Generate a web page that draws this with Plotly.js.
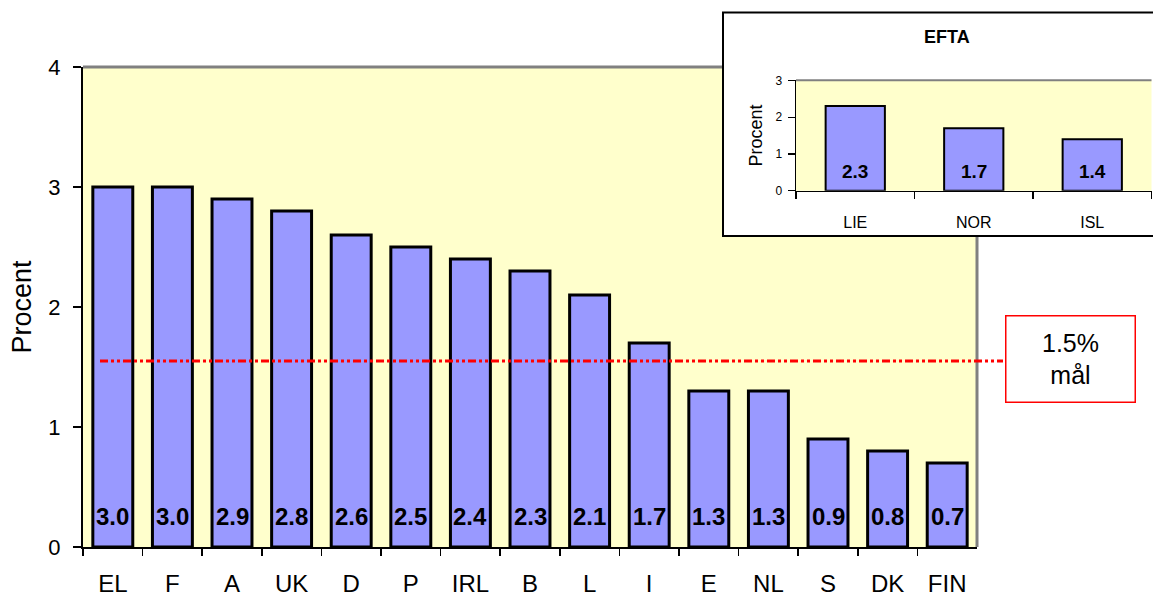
<!DOCTYPE html>
<html>
<head>
<meta charset="utf-8">
<script src="https://cdn.plot.ly/plotly-3.0.1.min.js"></script>
<style>html,body{margin:0;padding:0;background:#fff;}#chart{width:1153px;height:598px;}</style>
</head>
<body>
<div id="chart"></div>
<script>
// Main chart data (EU countries)
var countries = ["EL", "F", "A", "UK", "D", "P", "IRL", "B", "L", "I", "E", "NL", "S", "DK", "FIN"];
var values = [3.0, 3.0, 2.9, 2.8, 2.6, 2.5, 2.4, 2.3, 2.1, 1.7, 1.3, 1.3, 0.9, 0.8, 0.7];
// Inset chart data (EFTA)
var eftaCountries = ["LIE", "NOR", "ISL"];
var eftaValues = [2.3, 1.7, 1.4];
// Goal line
var goalValue = 1.55;
var goalLabel = "1.5%<br>mål";
var yTitle = "Procent";
var insetTitle = "EFTA";

var FONT = '"Liberation Sans", Arial, sans-serif';
var BAR = '#9999FF';
var BG = '#FFFFCC';

var W = 1153, H = 598;
function px(x){ return x / W; }
function py(y){ return 1 - y / H; }

var traces = [
  {
    type: 'bar', x: countries, y: values, xaxis: 'x', yaxis: 'y',
    width: 0.67,
    marker: {color: BAR, line: {color: '#000', width: 3}},
    hoverinfo: 'x+y'
  },
  {
    type: 'bar', x: eftaCountries, y: eftaValues, xaxis: 'x2', yaxis: 'y2',
    width: 0.5,
    marker: {color: BAR, line: {color: '#000', width: 2}},
    hoverinfo: 'x+y'
  }
];

var annotations = [];
countries.forEach(function(c, i){
  annotations.push({
    x: c, y: 0, xref: 'x', yref: 'y', yanchor: 'bottom', yshift: 15,
    text: values[i].toFixed(1), showarrow: false,
    font: {family: FONT, size: 24, color: '#000', weight: 'bold'}
  });
});
eftaCountries.forEach(function(c, i){
  annotations.push({
    x: c, y: 0, xref: 'x2', yref: 'y2', yanchor: 'bottom', yshift: 7,
    text: eftaValues[i].toFixed(1), showarrow: false,
    font: {family: FONT, size: 19, color: '#000', weight: 'bold'}
  });
});
annotations.push({
  text: insetTitle, xref: 'paper', yref: 'paper', x: px(947), y: py(37),
  xanchor: 'center', yanchor: 'middle', showarrow: false,
  font: {family: FONT, size: 18, color: '#000', weight: 'bold'}
});
annotations.push({
  text: goalLabel, xref: 'paper', yref: 'paper', x: px(1070), y: py(358.5),
  xanchor: 'center', yanchor: 'middle', showarrow: false,
  bgcolor: '#fff', bordercolor: '#FF0000', borderwidth: 1.5,
  width: 126, height: 83,
  font: {family: FONT, size: 25, color: '#000'}
});

var shapes = [
  // main plot background
  {type: 'rect', layer: 'below', xref: 'x domain', yref: 'y domain', x0: 0, x1: 1, y0: 0, y1: 1,
   fillcolor: BG, line: {width: 0}},
  // main top and right border (gray)
  {type: 'line', layer: 'below', xref: 'x domain', yref: 'y domain', x0: 0, x1: 1, y0: 1, y1: 1,
   line: {color: '#808080', width: 3}},
  {type: 'line', layer: 'below', xref: 'x domain', yref: 'y domain', x0: 1, x1: 1, y0: 0, y1: 1,
   line: {color: '#808080', width: 3}},
  // inset box
  {type: 'rect', layer: 'below', xref: 'paper', yref: 'paper', x0: px(723), x1: px(1160), y0: py(236), y1: py(12.5),
   fillcolor: '#fff', line: {color: '#000', width: 2}},
  // inset plot background
  {type: 'rect', layer: 'below', xref: 'x2 domain', yref: 'y2 domain', x0: 0, x1: 1, y0: 0, y1: 1,
   fillcolor: BG, line: {width: 0}},
  {type: 'line', layer: 'below', xref: 'x2 domain', yref: 'y2 domain', x0: 0, x1: 1, y0: 1, y1: 1,
   line: {color: '#808080', width: 2}},
  // goal line
  {type: 'line', layer: 'above', xref: 'paper', yref: 'y', x0: px(100), x1: px(1003), y0: goalValue, y1: goalValue,
   line: {color: '#FF0000', width: 3, dash: '8px,3px,3px,3px,3px,3px'}}
];

var layout = {
  width: W, height: H,
  margin: {l: 0, r: 0, t: 0, b: 0},
  paper_bgcolor: '#fff', plot_bgcolor: 'rgba(0,0,0,0)',
  showlegend: false, bargap: 0,
  font: {family: FONT, color: '#000'},
  xaxis: {
    domain: [px(83), px(977)], anchor: 'y', type: 'category', range: [-0.5, 14.5],
    tickson: 'boundaries', ticks: 'outside', ticklen: 7, tickwidth: 1.5, tickcolor: '#000',
    showline: true, linecolor: '#000', linewidth: 2, showgrid: false, zeroline: false,
    tickfont: {family: FONT, size: 24, color: '#000'}, ticklabelstandoff: 14,
    fixedrange: true
  },
  yaxis: {
    domain: [py(547), py(67)], anchor: 'x', range: [0, 4], dtick: 1, tick0: 0,
    ticks: 'outside', ticklen: 8, tickwidth: 1.5, tickcolor: '#000',
    showline: true, linecolor: '#000', linewidth: 2, showgrid: false, zeroline: false,
    tickfont: {family: FONT, size: 22, color: '#000'}, ticklabelstandoff: 8,
    title: {text: yTitle, font: {family: FONT, size: 27, color: '#000'}, standoff: 9},
    automargin: false, fixedrange: true
  },
  xaxis2: {
    domain: [px(796), px(1151.5)], anchor: 'y2', type: 'category', range: [-0.5, 2.5],
    tickson: 'boundaries', ticks: 'outside', ticklen: 7, tickwidth: 1.2, tickcolor: '#000',
    showline: true, linecolor: '#000', linewidth: 1.5, showgrid: false, zeroline: false,
    tickfont: {family: FONT, size: 16, color: '#000'}, ticklabelstandoff: 17,
    fixedrange: true
  },
  yaxis2: {
    domain: [py(190.7), py(80.3)], anchor: 'x2', range: [0, 3], dtick: 1, tick0: 0,
    ticks: 'outside', ticklen: 7, tickwidth: 1.2, tickcolor: '#000',
    showline: true, linecolor: '#000', linewidth: 1.5, showgrid: false, zeroline: false,
    tickfont: {family: FONT, size: 12, color: '#000'}, ticklabelstandoff: 3,
    title: {text: yTitle, font: {family: FONT, size: 18, color: '#000'}, standoff: 8},
    fixedrange: true
  },
  shapes: shapes,
  annotations: annotations
};

Plotly.newPlot('chart', traces, layout, {displayModeBar: false, staticPlot: true});
</script>
</body>
</html>
